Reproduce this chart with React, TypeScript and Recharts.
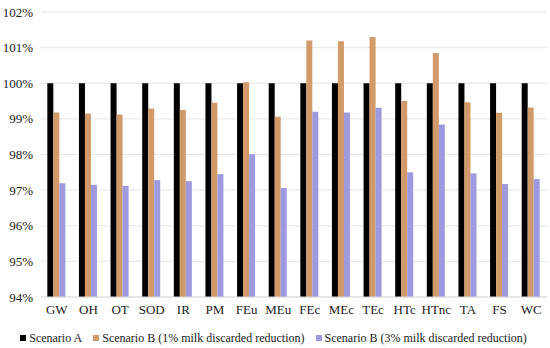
import { BarChart, Bar, XAxis, YAxis, CartesianGrid, Legend } from 'recharts';

const categories = ['GW', 'OH', 'OT', 'SOD', 'IR', 'PM', 'FEu', 'MEu', 'FEc', 'MEc', 'TEc', 'HTc', 'HTnc', 'TA', 'FS', 'WC'];
const scenarioA = [100, 100, 100, 100, 100, 100, 100, 100, 100, 100, 100, 100, 100, 100, 100, 100];
const scenarioB1 = [99.18, 99.15, 99.12, 99.29, 99.25, 99.45, 100.03, 99.06, 101.2, 101.18, 101.3, 99.5, 100.85, 99.47, 99.17, 99.32];
const scenarioB3 = [97.19, 97.15, 97.12, 97.28, 97.25, 97.45, 98.01, 97.06, 99.2, 99.18, 99.31, 97.5, 98.84, 97.47, 97.17, 97.31];
const yTicks = [94, 95, 96, 97, 98, 99, 100, 101, 102];

const data = categories.map((name, i) => ({
  name,
  a: scenarioA[i],
  b1: scenarioB1[i],
  b3: scenarioB3[i],
}));

const font = "'Liberation Serif', 'Times New Roman', serif";

// legend: small square + label, all on one row
const renderLegend = (props: any) => {
  const { payload } = props;
  return (
    <div style={{ height: 24, paddingTop: 8, boxSizing: 'border-box', display: 'flex', justifyContent: 'center', gap: 11, fontSize: 12, lineHeight: '14px', color: '#222', fontFamily: font, whiteSpace: 'nowrap' }}>
      {payload.map((entry: any) => (
        <span key={entry.value} style={{ display: 'inline-flex', alignItems: 'center' }}>
          <span style={{ display: 'inline-block', width: 6, height: 6, background: entry.color, marginRight: 3 }} />
          {entry.value}
        </span>
      ))}
    </div>
  );
};

const App = () => {
  return (
    <div style={{ position: 'absolute', left: 0, top: 0, fontFamily: font }}>
      <BarChart
        width={550}
        height={348}
        data={data}
        margin={{ top: 12, right: 3, left: 0, bottom: 2 }}
        barGap={0}
        barCategoryGap="20%"
      >
        <CartesianGrid vertical={false} stroke="#e6e6e6" />
        <XAxis
          dataKey="name"
          tickLine={false}
          axisLine={{ stroke: '#d9d9d9' }}
          tick={{ fontSize: 13, fill: '#222', fontFamily: font }}
          height={25}
          interval={0}
        />
        <YAxis
          domain={[94, 102]}
          ticks={yTicks}
          width={41}
          tickLine={false}
          axisLine={false}
          tickFormatter={(v: number) => `${v}%`}
          tick={{ fontSize: 13, fill: '#222', fontFamily: font }}
          allowDataOverflow
        />
        <Legend content={renderLegend} height={24} />
        <Bar dataKey="a" name="Scenario A" fill="#000000" isAnimationActive={false} />
        <Bar dataKey="b1" name="Scenario B (1% milk discarded reduction)" fill="#d19a68" isAnimationActive={false} />
        <Bar dataKey="b3" name="Scenario B (3% milk discarded reduction)" fill="#9d9ae0" isAnimationActive={false} />
      </BarChart>
    </div>
  );
};

export default App;
